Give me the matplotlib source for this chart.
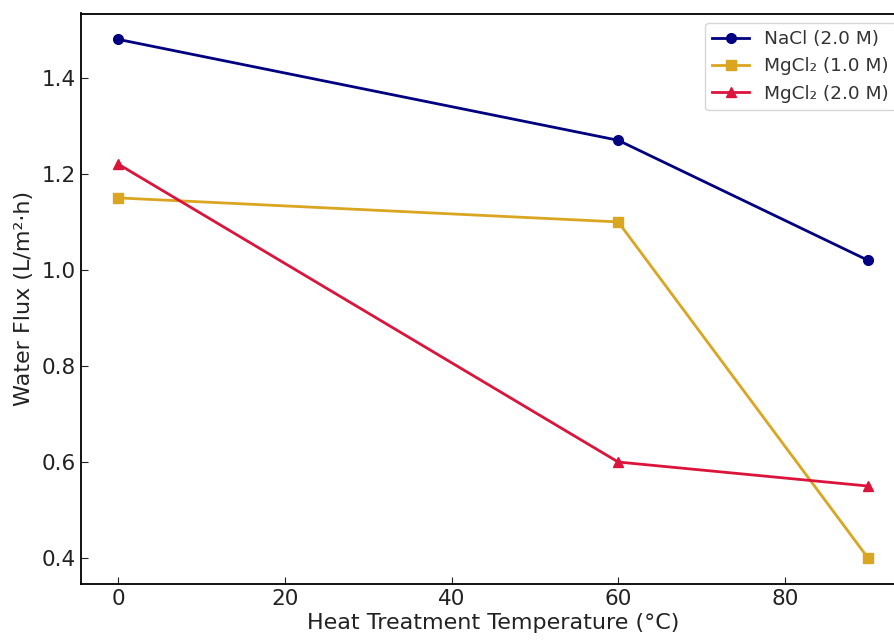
import matplotlib
matplotlib.use("Agg")
import matplotlib.pyplot as plt

temps = [0, 60, 90]
nacl_2m = [1.48, 1.27, 1.02]
mgcl2_1m = [1.15, 1.10, 0.40]
mgcl2_2m = [1.22, 0.60, 0.55]

fig = plt.figure(figsize=(8.95, 6.4), dpi=100)
ax = fig.add_axes([81/895, 56/640, (905.5-81)/895, (584-13.5)/640])

ax.plot(temps, nacl_2m, color="navy", marker="o", lw=2, ms=7, label="NaCl (2.0 M)")
ax.plot(temps, mgcl2_1m, color="goldenrod", marker="s", lw=2, ms=7, label="MgCl₂ (1.0 M)")
ax.plot(temps, mgcl2_2m, color="crimson", marker="^", lw=2, ms=7, label="MgCl₂ (2.0 M)")

ax.set_xlabel("Heat Treatment Temperature (°C)", fontsize=16, color="#222222", labelpad=3)
ax.set_ylabel("Water Flux (L/m²·h)", fontsize=16, color="#222222", labelpad=6)
ax.tick_params(direction="in", labelsize=15.5, length=5, colors="#222222")
ax.set_yticks([0.4, 0.6, 0.8, 1.0, 1.2, 1.4])
for s in ax.spines.values():
    s.set_linewidth(1.3)
ax.spines["right"].set_visible(False)
leg = ax.legend(loc="upper right", fontsize=13.3)
for t in leg.get_texts():
    t.set_color("#333333")

fig.savefig("out.png", dpi=100)
